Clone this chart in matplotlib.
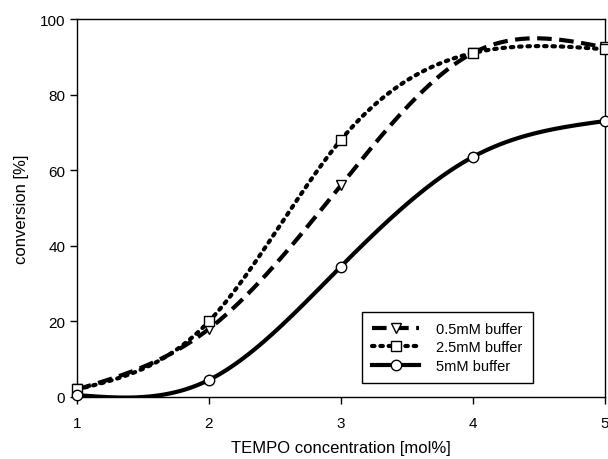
import numpy as np
import matplotlib
matplotlib.use("Agg")
import matplotlib.pyplot as plt
from matplotlib.lines import Line2D

plt.rcParams['font.family'] = ['Liberation Sans', 'DejaVu Sans']

tempo = [1, 2, 3, 4, 5]
buf_05 = [2.0, 18.0, 56.0, 91.0, 92.5]
buf_25 = [2.0, 20.0, 68.0, 91.0, 92.0]
buf_5 = [0.5, 4.5, 34.5, 63.5, 73.0]


def natural_spline(x, y, n=300):
    # natural cubic spline through the measured points
    x = np.asarray(x, float)
    y = np.asarray(y, float)
    k = len(x)
    h = np.diff(x)
    A = np.zeros((k, k))
    b = np.zeros(k)
    A[0, 0] = A[-1, -1] = 1
    for i in range(1, k - 1):
        A[i, i - 1] = h[i - 1]
        A[i, i] = 2 * (h[i - 1] + h[i])
        A[i, i + 1] = h[i]
        b[i] = 6 * ((y[i + 1] - y[i]) / h[i] - (y[i] - y[i - 1]) / h[i - 1])
    m = np.linalg.solve(A, b)
    xs = np.linspace(x[0], x[-1], n)
    idx = np.clip(np.searchsorted(x, xs) - 1, 0, k - 2)
    x0, x1 = x[idx], x[idx + 1]
    hh = x1 - x0
    t0, t1 = x1 - xs, xs - x0
    ys = (m[idx] * t0 ** 3 + m[idx + 1] * t1 ** 3) / (6 * hh) \
        + (y[idx] / hh - m[idx] * hh / 6) * t0 \
        + (y[idx + 1] / hh - m[idx + 1] * hh / 6) * t1
    return xs, ys


fig = plt.figure(figsize=(6.08, 4.6), dpi=100)
ax = fig.add_axes([0.1266, 0.1348, 0.868, 0.8217])

series = [
    (buf_05, (0, (3.5, 1.8)), 'v', '0.5mM buffer'),
    (buf_25, (0, (0.6, 1.4)), 's', '2.5mM buffer'),
    (buf_5, '-', 'o', '5mM buffer'),
]

handles = []
for vals, ls, mk, lab in series:
    xs, ys = natural_spline(tempo, vals)
    cap = 'round' if mk == 's' else 'butt'
    ax.plot(xs, ys, color='black', lw=3, linestyle=ls,
            dash_capstyle=cap, zorder=2)
    ax.plot(tempo, vals, linestyle='none', marker=mk, ms=7.5,
            mfc='white', mec='black', mew=1.0, zorder=3, clip_on=False)
    handles.append(Line2D([], [], color='black', lw=3, linestyle=ls,
                          dash_capstyle=cap, marker=mk, ms=7.5,
                          mfc='white', mec='black', mew=1.0))

ax.set_xlim(1, 5)
ax.set_ylim(0, 100)
ax.set_xticks(tempo)
ax.set_yticks([0, 20, 40, 60, 80, 100])
ax.tick_params(direction='out', length=5, width=1, labelsize=11)
ax.tick_params(axis='x', pad=9)
for s in ax.spines.values():
    s.set_linewidth(1)

ax.set_xlabel('TEMPO concentration [mol%]', fontsize=12, labelpad=7)
ax.set_ylabel('conversion [%]', fontsize=12, labelpad=8)

leg = ax.legend(handles, [s[3] for s in series], loc='lower right',
                bbox_to_anchor=(0.864, 0.037), borderaxespad=0,
                fontsize=10.5, fancybox=False, framealpha=1,
                edgecolor='black', handlelength=3.2, handletextpad=1.2,
                borderpad=0.7, labelspacing=0.3)
leg.get_frame().set_linewidth(1)

fig.savefig('out.png', dpi=100)
